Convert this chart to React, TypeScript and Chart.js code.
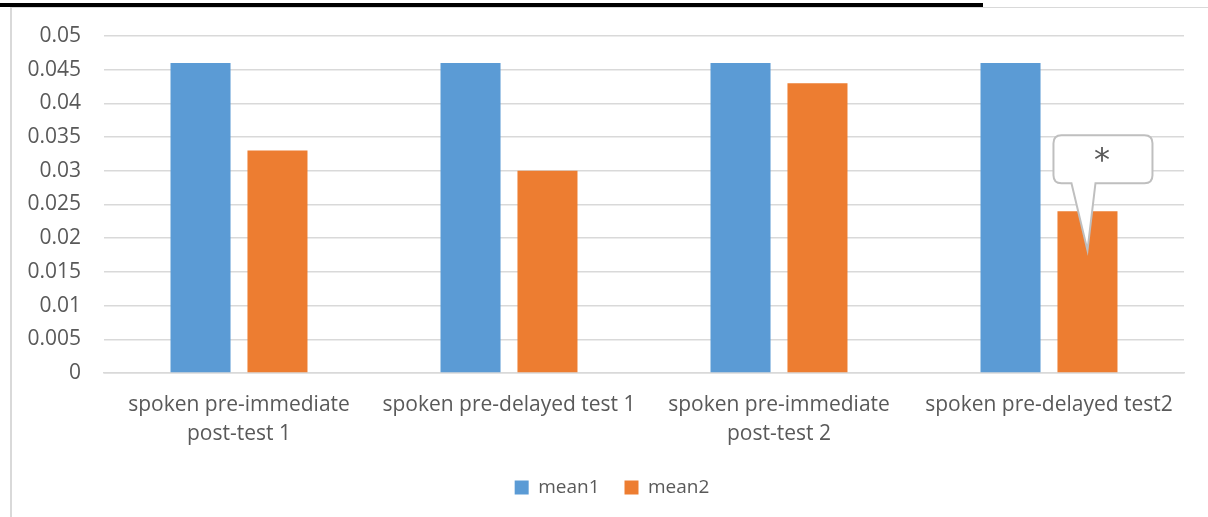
import React, { useEffect, useRef } from "react";
import { Chart, registerables } from "chart.js";

Chart.register(...registerables);

const categories: string[][] = [
  ["spoken pre-immediate", "post-test 1"],
  ["spoken pre-delayed test 1"],
  ["spoken pre-immediate", "post-test 2"],
  ["spoken pre-delayed test2"],
];
const mean1: number[] = [0.046, 0.046, 0.046, 0.046];
const mean2: number[] = [0.033, 0.03, 0.043, 0.024];
const seriesNames: string[] = ["mean1", "mean2"];
const calloutText = "*";
const calloutIndex = 3;

const FONT = "'Open Sans', sans-serif";
const TEXT = "#595959";
const GRID = "#D9D9D9";

const legendShiftPlugin = {
  id: "legendShift",
  afterLayout(chart: any) {
    const lg = chart.legend;
    if (!lg) return;
    lg.left += 20;
    lg.right += 20;
  },
};

const calloutPlugin = {
  id: "callout",
  afterDatasetsDraw(chart: any) {
    const meta = chart.getDatasetMeta(1);
    const bar = meta.data[calloutIndex];
    if (!bar) return;
    const cx = bar.x;
    const top = bar.y;
    const ctx = chart.ctx;
    const left = cx - 34;
    const right = cx + 65;
    const bTop = top - 76;
    const bBot = top - 28;
    const r = 8;
    const tipX = cx;
    const tipY = top + 39;
    const baseL = cx - 16;
    const baseR = cx + 8;
    ctx.save();
    ctx.beginPath();
    ctx.moveTo(left + r, bTop);
    ctx.lineTo(right - r, bTop);
    ctx.quadraticCurveTo(right, bTop, right, bTop + r);
    ctx.lineTo(right, bBot - r);
    ctx.quadraticCurveTo(right, bBot, right - r, bBot);
    ctx.lineTo(baseR, bBot);
    ctx.lineTo(tipX, tipY);
    ctx.lineTo(baseL, bBot);
    ctx.lineTo(left + r, bBot);
    ctx.quadraticCurveTo(left, bBot, left, bBot - r);
    ctx.lineTo(left, bTop + r);
    ctx.quadraticCurveTo(left, bTop, left + r, bTop);
    ctx.closePath();
    ctx.fillStyle = "#FFFFFF";
    ctx.fill();
    ctx.lineWidth = 2;
    ctx.strokeStyle = "#BFBFBF";
    ctx.stroke();
    ctx.fillStyle = TEXT;
    ctx.font = "32px 'DejaVu Sans', sans-serif";
    ctx.textAlign = "center";
    ctx.textBaseline = "middle";
    ctx.fillText(calloutText, (left + right) / 2 - 1, bTop + 26);
    ctx.restore();
  },
};

export default function App() {
  const ref = useRef<HTMLCanvasElement | null>(null);
  useEffect(() => {
    if (!ref.current) return;
    const chart = new Chart(ref.current, {
      type: "bar",
      data: {
        labels: categories as any,
        datasets: [
          {
            label: seriesNames[0],
            data: mean1,
            backgroundColor: "#5B9BD5",
            categoryPercentage: 0.57,
            barPercentage: 0.78,
          },
          {
            label: seriesNames[1],
            data: mean2,
            backgroundColor: "#ED7D31",
            categoryPercentage: 0.57,
            barPercentage: 0.78,
          },
        ],
      },
      options: {
        animation: false,
        responsive: false,
        maintainAspectRatio: false,
        layout: { padding: { left: 0, right: 24, top: 36, bottom: 10 } },
        plugins: {
          legend: {
            position: "bottom",
            labels: {
              color: TEXT,
              font: { family: FONT, size: 19 },
              boxWidth: 14,
              boxHeight: 14,
              padding: 25,
            },
          },
          tooltip: { enabled: false },
          title: { display: false },
        },
        scales: {
          x: {
            grid: { display: false, drawTicks: false },
            border: { display: true, color: GRID, width: 1.5 },
            ticks: {
              color: TEXT,
              font: { family: FONT, size: 21, lineHeight: 1.38 },
              padding: 18,
              maxRotation: 0,
              autoSkip: false,
            },
            afterFit(scale: any) {
              scale.height = 80;
            },
          },
          y: {
            min: 0,
            max: 0.05,
            grid: { color: GRID, lineWidth: 1.5, drawTicks: false },
            border: { display: false },
            ticks: {
              stepSize: 0.005,
              color: TEXT,
              font: { family: FONT, size: 21 },
              padding: 23,
              callback: (v: any) => String(Math.round(Number(v) * 1000) / 1000),
            },
            afterFit(scale: any) {
              scale.width = 104;
            },
          },
        },
      },
      plugins: [calloutPlugin, legendShiftPlugin],
    });
    return () => chart.destroy();
  }, []);
  return (
    <div style={{ position: "absolute", left: 0, top: 0, width: 1208, height: 517, background: "#fff", overflow: "hidden" }}>
      <div style={{ position: "absolute", left: 0, top: 3, width: 983, height: 4, background: "#000" }} />
      <div style={{ position: "absolute", left: 10, top: 7, width: 1220, height: 530, borderLeft: "2px solid #D9D9D9", borderTop: "1.5px solid #D9D9D9" }} />
      <canvas ref={ref} width={1208} height={517} style={{ position: "absolute", left: 0, top: 0 }} />
    </div>
  );
}
